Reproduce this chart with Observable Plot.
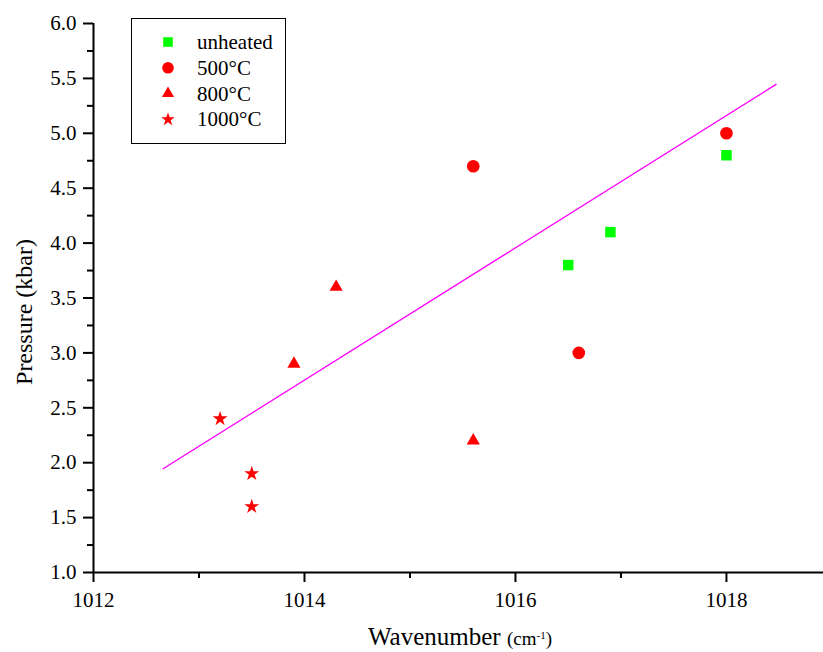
<!DOCTYPE html>
<html><head><meta charset="utf-8">
<script src="https://cdn.jsdelivr.net/npm/d3@7"></script>
<script src="https://cdn.jsdelivr.net/npm/@observablehq/plot@0.6"></script>
<style>
  html,body{margin:0;padding:0;background:#fff}
  #chart svg{display:block}
</style>
</head><body><div id="chart"></div>
<script>
// ---- data ----
const seriesNames   = ["unheated", "500°C", "800°C", "1000°C"];
const seriesColors  = ["#00ff00", "#ff0000", "#ff0000", "#ff0000"];
const seriesSymbols = ["square", "circle", "triangle", "star"];
const seriesSizes   = [5.9, 6.3, 4.9, 4.7];

const unheatedX = [1016.5, 1016.9, 1018.0];
const unheatedY = [3.8, 4.1, 4.8];
const c500X  = [1015.6, 1016.6, 1018.0];
const c500Y  = [4.7, 3.0, 5.0];
const c800X  = [1013.9, 1014.3, 1015.6];
const c800Y  = [2.9, 3.6, 2.2];
const c1000X = [1013.2, 1013.5, 1013.5];
const c1000Y = [2.4, 1.9, 1.6];

const fitX = [1012.66, 1018.47];
const fitY = [1.945, 5.445];

const xMajorTicks = [1012, 1014, 1016, 1018];
const xMinorTicks = [1013, 1015, 1017];
const yMajorTicks = [1.0, 1.5, 2.0, 2.5, 3.0, 3.5, 4.0, 4.5, 5.0, 5.5, 6.0];
const yMinorTicks = [1.25, 1.75, 2.25, 2.75, 3.25, 3.75, 4.25, 4.75, 5.25, 5.75];

const xTitle = "Wavenumber";
const xUnit = "(cm";
const xUnitSup = "-1";
const yTitle = "Pressure (kbar)";

// ---- build tables ----
const seriesXs = [unheatedX, c500X, c800X, c1000X];
const seriesYs = [unheatedY, c500Y, c800Y, c1000Y];
const seriesData = seriesNames.map((name, i) =>
  seriesXs[i].map((x, j) => ({series: name, x, y: seriesYs[i][j]})));
const fitData = fitX.map((x, i) => ({x, y: fitY[i]}));

const FONT = "Liberation Serif";

const plot = Plot.plot({
  width: 823,
  height: 652,
  marginLeft: 93,
  marginRight: 0,
  marginTop: 23,
  marginBottom: 80,
  style: {background: "#fff", color: "#000", fontFamily: FONT},
  x: {domain: [1012, 1018.92], axis: null, label: null},
  y: {domain: [1, 6], axis: null, label: null},
  marks: [
    Plot.axisY({ticks: yMinorTicks, tickSize: 6, tickFormat: null, text: null, strokeWidth: 2, label: null}),
    Plot.axisY({ticks: yMajorTicks, tickSize: 10, tickPadding: 7, tickFormat: d3.format(".1f"),
                strokeWidth: 2, fontSize: 21, fontFamily: FONT, label: null}),
    Plot.axisX({ticks: xMinorTicks, tickSize: 6, tickFormat: null, text: null, strokeWidth: 2, label: null}),
    Plot.axisX({ticks: xMajorTicks, tickSize: 10, tickPadding: 10, tickFormat: d => String(d),
                strokeWidth: 2, fontSize: 21, fontFamily: FONT, label: null}),
    Plot.ruleX([1012], {strokeWidth: 2}),
    Plot.ruleY([1], {strokeWidth: 2}),
    Plot.line(fitData, {x: "x", y: "y", stroke: "#ff00ff", strokeWidth: 1.4}),
    ...seriesData.map((data, i) =>
      Plot.dot(data, {x: "x", y: "y", symbol: () => seriesSymbols[i], fill: seriesColors[i],
                      r: seriesSizes[i], stroke: "none"})),
  ]
});

document.getElementById("chart").appendChild(plot);

const svg = d3.select(plot);

// x title with superscript
const xt = svg.append("text")
  .attr("x", 460).attr("y", 645)
  .attr("text-anchor", "middle")
  .attr("fill", "#000");
xt.append("tspan").attr("font-size", 25).text(xTitle + " ");
xt.append("tspan").attr("font-size", 19).text(xUnit);
xt.append("tspan").attr("font-size", 11).attr("baseline-shift", "super").text(xUnitSup);
xt.append("tspan").attr("font-size", 19).attr("baseline-shift", "0").text(")");

// y title
svg.append("text")
  .attr("transform", "translate(32,312) rotate(-90)")
  .attr("text-anchor", "middle")
  .attr("font-size", 24)
  .attr("fill", "#000")
  .text(yTitle);

// legend
const lg = svg.append("g");
lg.append("rect")
  .attr("x", 131.5).attr("y", 18.5).attr("width", 154).attr("height", 125)
  .attr("fill", "#fff").attr("stroke", "#000").attr("stroke-width", 1);
const symMap = {square: d3.symbolSquare, circle: d3.symbolCircle, triangle: d3.symbolTriangle, star: d3.symbolStar};
seriesNames.forEach((name, i) => {
  const cy = 42 + i * 25.8;
  const r = seriesSizes[i] * 0.92;
  lg.append("path")
    .attr("transform", `translate(168,${cy})`)
    .attr("d", d3.symbol(symMap[seriesSymbols[i]], Math.PI * r * r)())
    .attr("fill", seriesColors[i]);
  lg.append("text")
    .attr("x", 197).attr("y", cy + 7)
    .attr("text-anchor", "start")
    .attr("font-size", 21)
    .attr("fill", "#000")
    .text(name);
});

svg.selectAll("text").style("font-family", FONT);
</script>
</body></html>
